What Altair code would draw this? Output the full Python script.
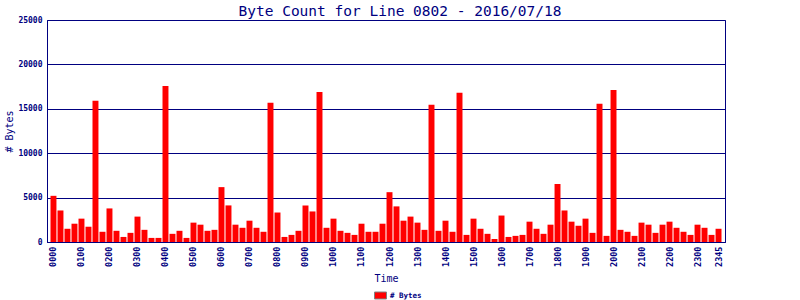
import altair as alt
import pandas as pd

times = [f"{h:02d}{m:02d}" for h in range(24) for m in (0, 15, 30, 45)]

byte_counts = [
    5200, 3550, 1490, 2060, 2630, 1720, 15900, 1150,
    3780, 1260, 570, 1030, 2860, 1370, 460, 460,
    17575, 920, 1260, 460, 2180, 1950, 1260, 1370,
    6180, 4120, 1950, 1600, 2400, 1600, 1150, 15670,
    3320, 570, 800, 1260, 4120, 3440, 16900, 1600,
    2630, 1260, 1030, 800, 2060, 1150, 1150, 2060,
    5610, 4010, 2400, 2860, 2180, 1370, 15450, 1260,
    2400, 1150, 16800, 800, 2630, 1490, 920, 340,
    2980, 570, 690, 800, 2290, 1490, 920, 1950,
    6530, 3550, 2290, 1830, 2630, 1030, 15560, 690,
    17130, 1370, 1150, 690, 2180, 1950, 1030, 1950,
    2290, 1600, 1150, 800, 1950, 1600, 800, 1490,
]

tick_labels = [f"{h:02d}00" for h in range(24)] + ["2345"]
y_ticks = [0, 5000, 10000, 15000, 20000, 25000]
series_name = "# Bytes"

df = pd.DataFrame({"Time": times, "Bytes": byte_counts, "Series": series_name})

NAVY = "#000080"
MONO = "DejaVu Sans Mono"

chart = (
    alt.Chart(df)
    .mark_bar(color="#FF0000")
    .encode(
        x=alt.X(
            "Time:N",
            sort=None,
            scale=alt.Scale(paddingInner=0.15, paddingOuter=0.5),
            axis=alt.Axis(
                values=tick_labels,
                labelAngle=-90,
                labelFont=MONO,
                labelFontSize=8.5,
                labelFontWeight="bold",
                labelColor=NAVY,
                labelPadding=4,
                ticks=False,
                domainColor=NAVY,
                grid=False,
                title="Time",
                titleFont=MONO,
                titleFontSize=10,
                titleFontWeight="normal",
                titleColor=NAVY,
                titleY=31,
            ),
        ),
        y=alt.Y(
            "Bytes:Q",
            scale=alt.Scale(domain=[0, 25000], nice=False),
            axis=alt.Axis(
                values=y_ticks,
                format="d",
                labelFont=MONO,
                labelFontSize=8,
                labelFontWeight="bold",
                labelColor=NAVY,
                labelPadding=5,
                ticks=False,
                domainColor=NAVY,
                grid=True,
                gridColor=NAVY,
                gridOpacity=1,
                gridWidth=1,
                title="# Bytes",
                titleFont=MONO,
                titleFontSize=10,
                titleFontWeight="normal",
                titleColor=NAVY,
                titlePadding=3,
            ),
        ),
        fill=alt.Fill(
            "Series:N",
            scale=alt.Scale(domain=[series_name], range=["#FF0000"]),
            legend=alt.Legend(
                title=None,
                orient="none",
                legendX=327,
                legendY=269,
                symbolType="M-1,-0.58H1V0.58H-1Z",
                symbolSize=144,
                symbolStrokeColor="#808080",
                symbolStrokeWidth=1,
                symbolOpacity=1,
                labelFont=MONO,
                labelFontSize=7.5,
                labelFontWeight="bold",
                labelColor=NAVY,
                labelOffset=3,
            ),
        ),
    )
    .properties(
        width=678,
        height=222,
        background="white",
        autosize=alt.AutoSizeParams(type="none"),
        padding={"left": 47, "top": 20, "right": 75, "bottom": 58},
        title=alt.TitleParams(
            "Byte Count for Line 0802 - 2016/07/18",
            font=MONO,
            fontSize=14.5,
            fontWeight="normal",
            color=NAVY,
            anchor="middle",
            dx=14,
            offset=5,
            dy=8,
        ),
    )
    .configure_view(stroke=NAVY, strokeWidth=1, strokeOpacity=1)
)

chart.save("out.html", embed_options={"renderer": "svg", "actions": False})
